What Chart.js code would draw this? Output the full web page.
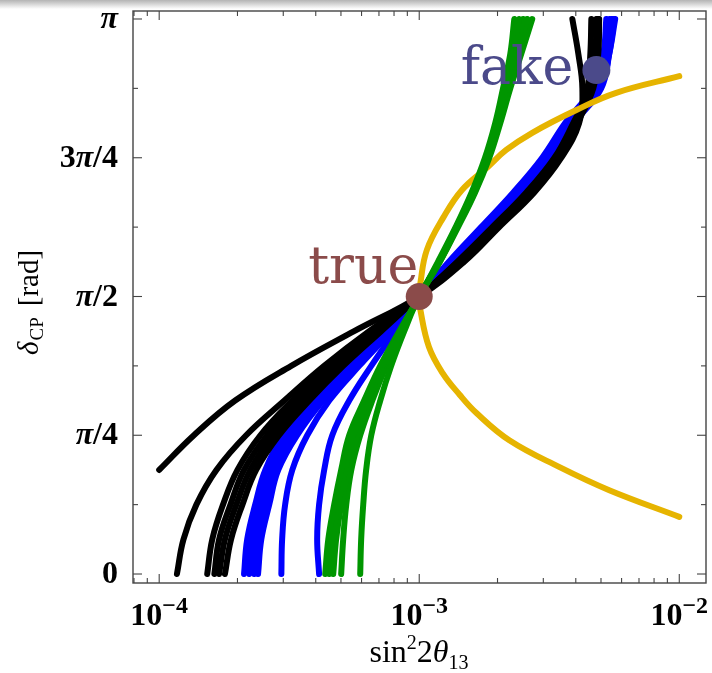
<!DOCTYPE html>
<html>
<head>
<meta charset="utf-8">
<script src="https://cdn.jsdelivr.net/npm/chart.js@4/dist/chart.umd.min.js"></script>
<style>
    html, body { margin: 0; padding: 0; background: #fff; }
    #wrap { position: relative; width: 712px; height: 673px; }
    #shade { position: absolute; left: 0; top: 0; width: 712px; height: 9px; background: linear-gradient(#b4b4b4, #ffffff); }
</style>
</head>
<body>
<div id="wrap">
    <canvas id="chart" width="712" height="673"></canvas>
    <div id="shade"></div>
</div>
<script>
// delta_CP in units of pi, shared by most curves
const deltaGrid = [0, 0.0625, 0.125, 0.1875, 0.25, 0.3125, 0.375, 0.4375, 0.5,
    0.5625, 0.625, 0.6875, 0.75, 0.8125, 0.875, 0.9375, 1];
// the leftmost black curve leaves the frame at 1e-4
const deltaGridCut = [0.1875, 0.25, 0.3125, 0.375, 0.4375, 0.5,
    0.5625, 0.625, 0.6875, 0.75, 0.8125, 0.875, 0.9375, 1];

// sin^2 2theta13 along each curve
const black1 = [1.00e-4, 1.36e-4, 1.96e-4, 3.22e-4, 5.62e-4, 1.00e-3, 1.49e-3, 2.03e-3, 2.77e-3, 3.52e-3, 4.12e-3, 4.24e-3, 4.09e-3, 3.88e-3];
const black2 = [1.17e-4, 1.24e-4, 1.39e-4, 1.66e-4, 2.16e-4, 3.03e-4, 4.31e-4, 6.42e-4, 1.00e-3, 1.45e-3, 1.98e-3, 2.70e-3, 3.45e-3, 4.05e-3, 4.43e-3, 4.55e-3, 4.59e-3];
const black3 = [1.53e-4, 1.60e-4, 1.76e-4, 2.00e-4, 2.45e-4, 3.25e-4, 4.51e-4, 6.60e-4, 1.00e-3, 1.40e-3, 1.91e-3, 2.58e-3, 3.31e-3, 3.91e-3, 4.51e-3, 4.75e-3, 4.80e-3];
const black4 = [1.63e-4, 1.70e-4, 1.88e-4, 2.12e-4, 2.60e-4, 3.45e-4, 4.75e-4, 6.83e-4, 1.00e-3, 1.41e-3, 1.93e-3, 2.63e-3, 3.36e-3, 3.98e-3, 4.59e-3, 4.80e-3, 4.84e-3];
const black5 = [1.70e-4, 1.79e-4, 1.98e-4, 2.24e-4, 2.74e-4, 3.61e-4, 4.92e-4, 7.02e-4, 1.00e-3, 1.43e-3, 1.94e-3, 2.65e-3, 3.39e-3, 4.02e-3, 4.63e-3, 4.84e-3, 4.88e-3];
const black6 = [1.79e-4, 1.89e-4, 2.09e-4, 2.36e-4, 2.89e-4, 3.78e-4, 5.10e-4, 7.14e-4, 1.00e-3, 1.44e-3, 1.96e-3, 2.67e-3, 3.42e-3, 4.05e-3, 4.67e-3, 4.88e-3, 4.92e-3];

const blue1 = [2.12e-4, 2.18e-4, 2.34e-4, 2.56e-4, 3.00e-4, 3.84e-4, 5.29e-4, 7.40e-4, 1.00e-3, 1.30e-3, 1.73e-3, 2.30e-3, 2.97e-3, 3.64e-3, 4.63e-3, 5.10e-3, 5.24e-3];
const blue2 = [2.22e-4, 2.28e-4, 2.45e-4, 2.67e-4, 3.13e-4, 3.98e-4, 5.43e-4, 7.53e-4, 1.00e-3, 1.33e-3, 1.78e-3, 2.36e-3, 3.05e-3, 3.74e-3, 4.75e-3, 5.19e-3, 5.38e-3];
const blue3 = [2.32e-4, 2.38e-4, 2.56e-4, 2.77e-4, 3.28e-4, 4.12e-4, 5.57e-4, 7.67e-4, 1.00e-3, 1.35e-3, 1.81e-3, 2.42e-3, 3.13e-3, 3.84e-3, 4.88e-3, 5.29e-3, 5.53e-3];
const blue4 = [2.40e-4, 2.47e-4, 2.65e-4, 2.87e-4, 3.39e-4, 4.27e-4, 5.72e-4, 7.80e-4, 1.00e-3, 1.38e-3, 1.86e-3, 2.51e-3, 3.25e-3, 3.95e-3, 5.01e-3, 5.38e-3, 5.62e-3];
const blue5 = [2.95e-4, 2.97e-4, 3.05e-4, 3.25e-4, 3.71e-4, 4.51e-4, 5.88e-4, 7.80e-4, 1.00e-3, 1.34e-3, 1.79e-3, 2.40e-3, 3.11e-3, 3.78e-3, 4.84e-3, 5.24e-3, 5.48e-3];
const blue6 = [4.12e-4, 4.05e-4, 4.12e-4, 4.31e-4, 4.63e-4, 5.38e-4, 6.54e-4, 8.09e-4, 1.00e-3, 1.36e-3, 1.83e-3, 2.47e-3, 3.19e-3, 3.91e-3, 4.97e-3, 5.38e-3, 5.67e-3];

const green1 = [4.35e-4, 4.47e-4, 4.71e-4, 5.01e-4, 5.38e-4, 6.14e-4, 7.08e-4, 8.38e-4, 1.00e-3, 1.18e-3, 1.38e-3, 1.59e-3, 1.79e-3, 1.96e-3, 2.10e-3, 2.24e-3, 2.32e-3];
const green2 = [4.51e-4, 4.63e-4, 4.88e-4, 5.19e-4, 5.57e-4, 6.31e-4, 7.21e-4, 8.45e-4, 1.00e-3, 1.19e-3, 1.39e-3, 1.60e-3, 1.81e-3, 1.98e-3, 2.14e-3, 2.30e-3, 2.42e-3];
const green3 = [4.67e-4, 4.79e-4, 5.01e-4, 5.33e-4, 5.78e-4, 6.42e-4, 7.33e-4, 8.53e-4, 1.00e-3, 1.19e-3, 1.39e-3, 1.61e-3, 1.83e-3, 2.00e-3, 2.16e-3, 2.34e-3, 2.51e-3];
const green4 = [5.01e-4, 5.10e-4, 5.24e-4, 5.48e-4, 5.93e-4, 6.60e-4, 7.47e-4, 8.60e-4, 1.00e-3, 1.20e-3, 1.40e-3, 1.63e-3, 1.84e-3, 2.03e-3, 2.20e-3, 2.40e-3, 2.60e-3];
const green5 = [5.93e-4, 5.98e-4, 6.09e-4, 6.25e-4, 6.54e-4, 7.08e-4, 7.80e-4, 8.76e-4, 1.00e-3, 1.20e-3, 1.41e-3, 1.64e-3, 1.86e-3, 2.05e-3, 2.24e-3, 2.47e-3, 2.72e-3];

// the yellow curve turns back at the true point
const yellowX = [1.00e-2, 5.38e-3, 3.45e-3, 2.22e-3, 1.66e-3, 1.43e-3, 1.23e-3, 1.09e-3, 1.01e-3, 1.00e-3,
    1.01e-3, 1.07e-3, 1.24e-3, 1.46e-3, 1.83e-3, 2.16e-3, 2.72e-3, 4.02e-3, 5.72e-3, 1.00e-2];
const yellowDelta = [0.103, 0.151, 0.193, 0.241, 0.290, 0.323, 0.362, 0.409, 0.476, 0.500,
    0.524, 0.584, 0.643, 0.692, 0.733, 0.764, 0.795, 0.836, 0.867, 0.897];

const trueX = 1.0e-3, trueDelta = 0.5;
const fakeX = 4.80e-3, fakeDelta = 0.908;

const piTicks = [0, 0.25, 0.5, 0.75, 1];
const piTickLabels = ['0', 'π/4', 'π/2', '3π/4', 'π'];
const piMinorTicks = [0.125, 0.375, 0.625, 0.875];
const decadeTicks = [1e-4, 1e-3, 1e-2];
const decadeExponents = ['−4', '−3', '−2'];

const colors = {
    black: '#000000',
    blue: '#0000ff',
    green: '#009600',
    yellow: '#e6b400',
    trueDot: '#8b4b4a',
    fakeDot: '#4b4a8a',
    frame: '#444444'
};

function curve(label, color, xs, deltas) {
    return {
        label: label,
        data: xs.map((x, i) => ({ x: x, y: deltas[i] })),
        showLine: true,
        fill: false,
        borderColor: color,
        backgroundColor: color,
        borderWidth: 6,
        borderCapStyle: 'round',
        borderJoinStyle: 'round',
        pointRadius: 0,
        pointHoverRadius: 0,
        tension: 0.4
    };
}

function marker(label, color, x, y, r) {
    return {
        label: label,
        data: [{ x: x, y: y }],
        showLine: false,
        pointRadius: r,
        pointHoverRadius: r,
        pointBorderWidth: 0,
        backgroundColor: color,
        borderColor: color
    };
}

// the first dataset is painted last, so the markers go first
const datasets = [
    marker('true', colors.trueDot, trueX, trueDelta, 13.5),
    marker('fake', colors.fakeDot, fakeX, fakeDelta, 14),
    curve('green 1', colors.green, green1, deltaGrid),
    curve('green 2', colors.green, green2, deltaGrid),
    curve('green 3', colors.green, green3, deltaGrid),
    curve('green 4', colors.green, green4, deltaGrid),
    curve('green 5', colors.green, green5, deltaGrid),
    curve('yellow', colors.yellow, yellowX, yellowDelta),
    curve('black 1', colors.black, black1, deltaGridCut),
    curve('black 2', colors.black, black2, deltaGrid),
    curve('black 3', colors.black, black3, deltaGrid),
    curve('black 4', colors.black, black4, deltaGrid),
    curve('black 5', colors.black, black5, deltaGrid),
    curve('black 6', colors.black, black6, deltaGrid),
    curve('blue 1', colors.blue, blue1, deltaGrid),
    curve('blue 2', colors.blue, blue2, deltaGrid),
    curve('blue 3', colors.blue, blue3, deltaGrid),
    curve('blue 4', colors.blue, blue4, deltaGrid),
    curve('blue 5', colors.blue, blue5, deltaGrid),
    curve('blue 6', colors.blue, blue6, deltaGrid)
];

function minorDecadeTicks(min, max) {
    const out = [];
    for (let e = -5; e <= -2; e++) {
        for (let m = 2; m <= 9; m++) {
            const v = m * Math.pow(10, e);
            if (v > min && v < max) out.push(v);
        }
    }
    return out;
}

// right-aligned label where pi is set slanted like a math symbol
function drawPiLabel(ctx, text, right, baseline) {
    const upright = 'bold 32px "Liberation Serif"';
    const slanted = 'italic bold 32px "Liberation Serif"';
    const chars = text.split('');
    const widths = chars.map(c => {
        ctx.font = c === 'π' ? slanted : upright;
        return ctx.measureText(c).width;
    });
    let cx = right - widths.reduce((a, b) => a + b, 0);
    ctx.textAlign = 'left';
    chars.forEach((c, i) => {
        ctx.font = c === 'π' ? slanted : upright;
        ctx.fillText(c, cx, baseline);
        cx += widths[i];
    });
}

const framePlugin = {
    id: 'frame',
    afterDatasetsDraw(chart) {
        const { ctx, chartArea: area, scales: { x, y } } = chart;
        ctx.save();

        // point labels
        ctx.font = '52px "DejaVu Serif"';
        ctx.textAlign = 'right';
        ctx.textBaseline = 'alphabetic';
        ctx.fillStyle = colors.trueDot;
        ctx.fillText('true', x.getPixelForValue(trueX) - 1, y.getPixelForValue(trueDelta) - 14);
        ctx.fillStyle = colors.fakeDot;
        ctx.fillText('fake', x.getPixelForValue(fakeX) - 23, y.getPixelForValue(fakeDelta) + 14);

        // frame and inward ticks on all four sides
        ctx.strokeStyle = colors.frame;
        ctx.lineWidth = 1.4;
        ctx.strokeRect(area.left, area.top, area.right - area.left, area.bottom - area.top);
        ctx.lineWidth = 1.1;
        const tick = (x0, y0, dx, dy) => {
            ctx.beginPath();
            ctx.moveTo(x0, y0);
            ctx.lineTo(x0 + dx, y0 + dy);
            ctx.stroke();
        };
        piTicks.forEach(v => {
            const py = y.getPixelForValue(v);
            tick(area.left, py, 9, 0);
            tick(area.right, py, -9, 0);
        });
        piMinorTicks.forEach(v => {
            const py = y.getPixelForValue(v);
            tick(area.left, py, 5, 0);
            tick(area.right, py, -5, 0);
        });
        decadeTicks.forEach(v => {
            const px = x.getPixelForValue(v);
            tick(px, area.bottom, 0, -9);
            tick(px, area.top, 0, 9);
        });
        minorDecadeTicks(x.min, x.max).forEach(v => {
            const px = x.getPixelForValue(v);
            tick(px, area.bottom, 0, -5);
            tick(px, area.top, 0, 5);
        });

        // y tick labels
        ctx.fillStyle = '#000';
        piTicks.forEach((v, i) => {
            drawPiLabel(ctx, piTickLabels[i], area.left - 15, y.getPixelForValue(v) + 9);
        });

        // x tick labels: 10 with a raised exponent
        decadeTicks.forEach((v, i) => {
            const px = x.getPixelForValue(v);
            ctx.font = 'bold 32px "Liberation Serif"';
            const wBase = ctx.measureText('10').width;
            ctx.font = 'bold 24px "Liberation Serif"';
            const wExp = ctx.measureText(decadeExponents[i]).width;
            const left = px - (wBase + wExp) / 2;
            ctx.textAlign = 'left';
            ctx.font = 'bold 32px "Liberation Serif"';
            ctx.fillText('10', left, 625);
            ctx.font = 'bold 24px "Liberation Serif"';
            ctx.fillText(decadeExponents[i], left + wBase, 613);
        });

        // x axis title: sin^2 2theta_13
        const parts = [
            { t: 'sin', f: '32px "Liberation Serif"', dy: 0 },
            { t: '2', f: '20px "Liberation Serif"', dy: -13 },
            { t: '2', f: '32px "Liberation Serif"', dy: 0 },
            { t: 'θ', f: 'italic 32px "Liberation Serif"', dy: 0 },
            { t: '13', f: '20px "Liberation Serif"', dy: 7 }
        ];
        let total = 0;
        parts.forEach(p => { ctx.font = p.f; p.w = ctx.measureText(p.t).width; total += p.w; });
        let cx = 419 - total / 2;
        ctx.textAlign = 'left';
        parts.forEach(p => {
            ctx.font = p.f;
            ctx.fillText(p.t, cx, 662 + p.dy);
            cx += p.w;
        });

        // y axis title: delta_CP [rad], rotated
        ctx.translate(38, 355);
        ctx.rotate(-Math.PI / 2);
        ctx.font = 'italic 29px "Liberation Serif"';
        ctx.fillText('δ', 0, 0);
        let u = ctx.measureText('δ').width + 1;
        ctx.font = '19px "Liberation Serif"';
        ctx.fillText('CP', u, 5);
        u += ctx.measureText('CP').width + 11;
        ctx.font = '29px "Liberation Serif"';
        ctx.fillText('[rad]', u, 0);

        ctx.restore();
    }
};

new Chart(document.getElementById('chart'), {
    type: 'scatter',
    data: { datasets: datasets },
    options: {
        responsive: false,
        animation: false,
        events: [],
        layout: { autoPadding: false, padding: { left: 133, top: 11, right: 6, bottom: 90 } },
        plugins: {
            legend: { display: false },
            tooltip: { enabled: false }
        },
        scales: {
            x: { type: 'logarithmic', min: 7.93e-5, max: 1.267e-2, bounds: 'data', display: false },
            y: { type: 'linear', min: -0.0162, max: 1.0144, display: false }
        }
    },
    plugins: [framePlugin]
});
</script>
</body>
</html>
